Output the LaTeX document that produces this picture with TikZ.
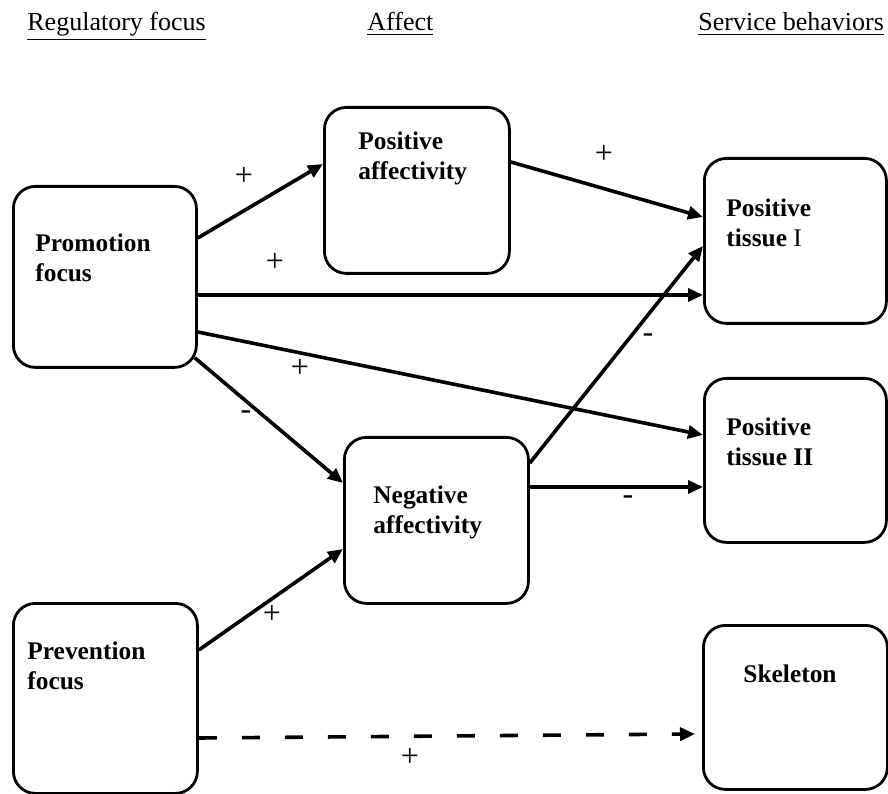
\documentclass[tikz,border=0pt]{standalone}
\usepackage{fontspec}
\setmainfont{Liberation Serif}
\usetikzlibrary{arrows.meta,positioning}
\tikzset{
  fbox/.style={draw=black,line width=1.4pt,rounded corners=11pt,inner sep=0pt,anchor=north west},
  ftext/.style={font=\fontsize{12.7pt}{15pt}\selectfont\bfseries,align=left,inner sep=0pt,anchor=base west},
  fhead/.style={font=\fontsize{13pt}{15pt}\selectfont,inner sep=0pt,anchor=base west},
  fsign/.style={font=\fontsize{16pt}{18pt}\selectfont,inner sep=0pt},
  farr/.style={-{Triangle[length=7.5pt,width=6.5pt]},line width=1.8pt,draw=black},
  fdash/.style={farr,dash pattern=on 9pt off 12.5pt}
}
\begin{document}
\begin{tikzpicture}[x=0.5pt,y=0.5pt]
  \useasboundingbox (0,0) rectangle (888,793);
  % column headings
  \node[fhead] (hreg) at (27,762) {\underline{Regulatory focus}};
  \node[fhead] (haff) at (367,762) {\underline{Affect}};
  \node[fhead] (hser) at (698,762) {\underline{Service behaviors}};
  % boxes
  \node[fbox,minimum width=91.5pt,minimum height=90.5pt] (promo) at (12,608) {};
  \node[fbox,minimum width=92.5pt,minimum height=83pt] (posaff) at (323,687) {};
  \node[fbox,minimum width=92pt,minimum height=83pt] (negaff) at (343,357) {};
  \node[fbox,minimum width=92pt,minimum height=95pt] (prev) at (12,191) {};
  \node[fbox,minimum width=91pt,minimum height=82.5pt] (tisone) at (703,636) {};
  \node[fbox,minimum width=91pt,minimum height=82pt] (tistwo) at (703,416) {};
  \node[fbox,minimum width=92pt,minimum height=82pt] (skel) at (702,169) {};
  % box texts (anchored at the last line)
  \node[ftext] (promotxt) at (35,511) {Promotion\\focus};
  \node[ftext] (posafftxt) at (358,613) {Positive\\affectivity};
  \node[ftext] (negafftxt) at (373,260) {Negative\\affectivity};
  \node[ftext] (prevtxt) at (27,104) {Prevention\\focus};
  \node[ftext] (tisonetxt) at (726,546) {Positive\\tissue {\mdseries I}};
  \node[ftext] (tistwotxt) at (726,328) {Positive\\tissue II};
  \node[ftext,anchor=base] (skeltxt) at (790,111) {Skeleton};
  % paths
  \draw[farr] ([yshift=-26.5pt]promo.north east) -- ([yshift=-29pt]posaff.north west);
  \draw[farr] ([yshift=-55pt]promo.north east) -- ([yshift=-69pt]tisone.north west);
  \draw[farr] ([yshift=-73.5pt]promo.north east) -- ([yshift=-29pt]tistwo.north west);
  \draw[farr] ([shift={(-1.5pt,5.5pt)}]promo.south east) -- ([yshift=-23.5pt]negaff.north west);
  \draw[farr] ([yshift=-28pt]posaff.north east) -- ([yshift=-30pt]tisone.north west);
  \draw[farr] ([yshift=-13.5pt]negaff.north east) -- ([yshift=-44.5pt]tisone.north west);
  \draw[farr] ([yshift=-25.5pt]negaff.north east) -- ([yshift=-55pt]tistwo.north west);
  \draw[farr] ([yshift=-24pt]prev.north east) -- ([yshift=-56.5pt]negaff.north west);
  \draw[fdash] ([yshift=-68pt]prev.north east) -- ([shift={(-3.5pt,-55pt)}]skel.north west);
  % signs
  \node[fsign] (s1) at (244,617) {+};
  \node[fsign] (s2) at (275,531) {+};
  \node[fsign] (s3) at (300,425) {+};
  \node[fsign] (s4) at (246,378) {-};
  \node[fsign] (s5) at (604,639) {+};
  \node[fsign] (s6) at (648,455) {-};
  \node[fsign] (s7) at (628,293) {-};
  \node[fsign] (s8) at (272,179) {+};
  \node[fsign] (s9) at (410,36) {+};
\end{tikzpicture}
\end{document}
